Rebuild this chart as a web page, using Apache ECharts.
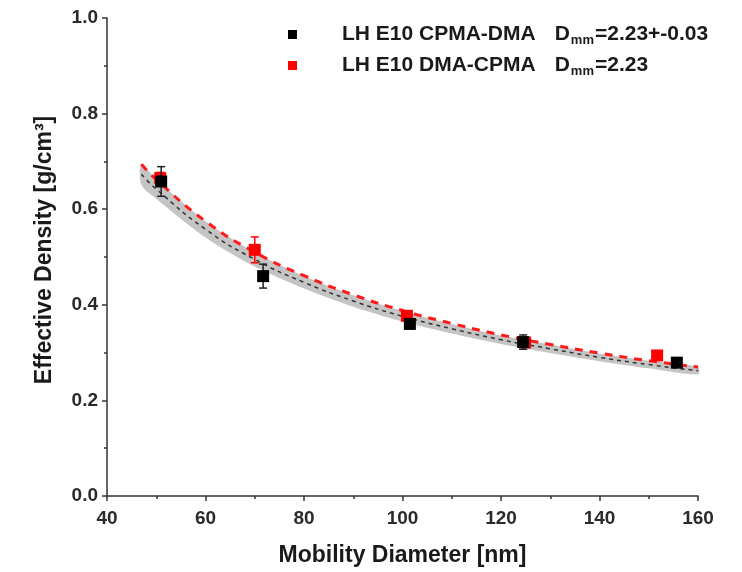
<!DOCTYPE html>
<html>
<head>
<meta charset="utf-8">
<script src="https://cdn.jsdelivr.net/npm/echarts@6/dist/echarts.min.js"></script>
<style>
html,body{margin:0;padding:0;background:#fff;}
#chart{width:742px;height:572px;}
</style>
</head>
<body>
<div id="chart"></div>
<script>
// ---- data ----
const blackX = [51.0, 71.7, 101.5, 124.5, 155.7];
const blackY = [0.658, 0.460, 0.360, 0.322, 0.279];
const blackErr = [0.031, 0.025, 0.008, 0.015, 0.006];

const redX = [50.8, 70.0, 100.9, 124.9, 151.7];
const redY = [0.665, 0.515, 0.377, 0.321, 0.294];
const redErr = [0.012, 0.027, 0.010, 0.010, 0.008];

const fitX = [47, 50, 60, 70, 80, 90, 100, 110, 120, 130, 140, 150, 160];
const blackFit = [0.673, 0.642, 0.558, 0.495, 0.447, 0.408, 0.376, 0.350, 0.327, 0.308, 0.290, 0.275, 0.262];
const redFit = [0.694, 0.662, 0.575, 0.510, 0.461, 0.421, 0.388, 0.361, 0.337, 0.317, 0.299, 0.283, 0.270];
const bandUpper = [0.695, 0.662, 0.575, 0.510, 0.460, 0.420, 0.387, 0.360, 0.336, 0.317, 0.298, 0.283, 0.270];
const bandLower = [0.651, 0.622, 0.541, 0.480, 0.434, 0.396, 0.365, 0.340, 0.318, 0.299, 0.282, 0.267, 0.254];

const xTicks = [40, 60, 80, 100, 120, 140, 160];
const yTicks = [0.0, 0.2, 0.4, 0.6, 0.8, 1.0];

const name1 = 'LH E10 CPMA-DMA';
const name2 = 'LH E10 DMA-CPMA';
const dmm1 = '=2.23+-0.03';
const dmm2 = '=2.23';

// ---- helpers building library structures ----
const zip = (a, b) => a.map((v, i) => [v, b[i]]);
const errData = (xs, ys, es) => xs.map((x, i) => [x, ys[i] - es[i], ys[i] + es[i]]);

function errorBarRender(color) {
  return function (params, api) {
    const x = api.value(0);
    const lo = api.coord([x, api.value(1)]);
    const hi = api.coord([x, api.value(2)]);
    const cap = 4;
    const style = { stroke: color, lineWidth: 1.5 };
    return {
      type: 'group',
      children: [
        { type: 'line', shape: { x1: lo[0], y1: lo[1], x2: hi[0], y2: hi[1] }, style: style },
        { type: 'line', shape: { x1: lo[0] - cap, y1: lo[1], x2: lo[0] + cap, y2: lo[1] }, style: style },
        { type: 'line', shape: { x1: hi[0] - cap, y1: hi[1], x2: hi[0] + cap, y2: hi[1] }, style: style }
      ]
    };
  };
}

function bandRender(params, api) {
  if (params.dataIndex !== 0) return null;
  const pts = [];
  for (let i = 0; i < fitX.length; i++) pts.push(api.coord([fitX[i], bandUpper[i]]));
  for (let i = fitX.length - 1; i >= 0; i--) pts.push(api.coord([fitX[i], bandLower[i]]));
  return { type: 'polygon', shape: { points: pts, smooth: 0.3 }, style: { fill: '#c4c4c4' } };
}

const font = '"Liberation Sans", Arial, sans-serif';

const chart = echarts.init(document.getElementById('chart'));
chart.setOption({
  animation: false,
  backgroundColor: '#fff',
  grid: { left: 107, right: 44, top: 18, bottom: 74, containLabel: false },
  legend: {
    data: [name1, name2],
    orient: 'vertical',
    left: 283,
    top: 19,
    itemWidth: 9,
    itemHeight: 9,
    itemGap: 8,
    icon: 'rect',
    selectedMode: false,
    formatter: function (n) {
      const tail = n === name1 ? dmm1 : dmm2;
      return '{sp|}{b|' + n + '}{g|}{b|D}{s|mm}{b|' + tail + '}';
    },
    textStyle: {
      rich: {
        sp: { width: 40 },
        g: { width: 19 },
        b: { fontFamily: font, fontWeight: 'bold', fontSize: 21, color: '#1a1a1a', height: 24 },
        s: { fontFamily: font, fontWeight: 'bold', fontSize: 13, color: '#1a1a1a', verticalAlign: 'bottom', padding: [12, 1, 0, 1] }
      }
    }
  },
  xAxis: {
    type: 'value',
    min: 40, max: 160, interval: 20,
    name: 'Mobility Diameter [nm]',
    nameLocation: 'middle',
    nameGap: 48,
    nameTextStyle: { fontFamily: font, fontWeight: 'bold', fontSize: 23, color: '#1a1a1a' },
    axisLine: { show: true, onZero: false, lineStyle: { color: '#333', width: 1.5 } },
    axisTick: { show: true, inside: false, length: 5, lineStyle: { color: '#333', width: 1.5 } },
    minorTick: { show: true, splitNumber: 2, length: 3, lineStyle: { color: '#333', width: 1.5 } },
    splitLine: { show: false },
    axisLabel: {
      fontFamily: font, fontWeight: 'bold', fontSize: 19, color: '#2a2a2a', margin: 13,
      formatter: v => xTicks.includes(v) ? String(v) : ''
    }
  },
  yAxis: {
    type: 'value',
    min: 0, max: 1, interval: 0.2,
    name: 'Effective Density [g/cm³]',
    nameLocation: 'middle',
    nameGap: 51,
    nameTextStyle: { fontFamily: font, fontWeight: 'bold', fontSize: 23, color: '#1a1a1a', padding: [0, 0, 0, 14] },
    axisLine: { show: true, onZero: false, lineStyle: { color: '#333', width: 1.5 } },
    axisTick: { show: true, inside: false, length: 5, lineStyle: { color: '#333', width: 1.5 } },
    minorTick: { show: true, splitNumber: 2, length: 3, lineStyle: { color: '#333', width: 1.5 } },
    splitLine: { show: false },
    axisLabel: {
      fontFamily: font, fontWeight: 'bold', fontSize: 19, color: '#2a2a2a', margin: 9,
      formatter: v => yTicks.some(t => Math.abs(t - v) < 1e-9) ? v.toFixed(1) : ''
    }
  },
  series: [
    {
      name: 'band', type: 'custom', renderItem: bandRender,
      data: [[fitX[0], bandUpper[0]]], z: 1, silent: true
    },
    {
      name: 'blackFit', type: 'line', data: zip(fitX, blackFit), smooth: true,
      showSymbol: false, symbol: 'none', z: 2,
      lineStyle: { color: '#333', width: 1.5, type: [4, 4] }
    },
    {
      name: 'redFit', type: 'line', data: zip(fitX, redFit), smooth: true,
      showSymbol: false, symbol: 'none', z: 3,
      lineStyle: { color: '#ff1a1a', width: 3, type: [8, 7] }
    },
    {
      name: 'redErr', type: 'custom', renderItem: errorBarRender('#ff0000'),
      data: errData(redX, redY, redErr), z: 4
    },
    {
      name: name2, type: 'scatter', data: zip(redX, redY), symbol: 'rect', symbolSize: 12,
      itemStyle: { color: '#ff0000', opacity: 1 }, z: 5
    },
    {
      name: 'blackErr', type: 'custom', renderItem: errorBarRender('#222'),
      data: errData(blackX, blackY, blackErr), z: 6
    },
    {
      name: name1, type: 'scatter', data: zip(blackX, blackY), symbol: 'rect', symbolSize: 12,
      itemStyle: { color: '#000', opacity: 1 }, z: 7
    }
  ]
});
</script>
</body>
</html>
